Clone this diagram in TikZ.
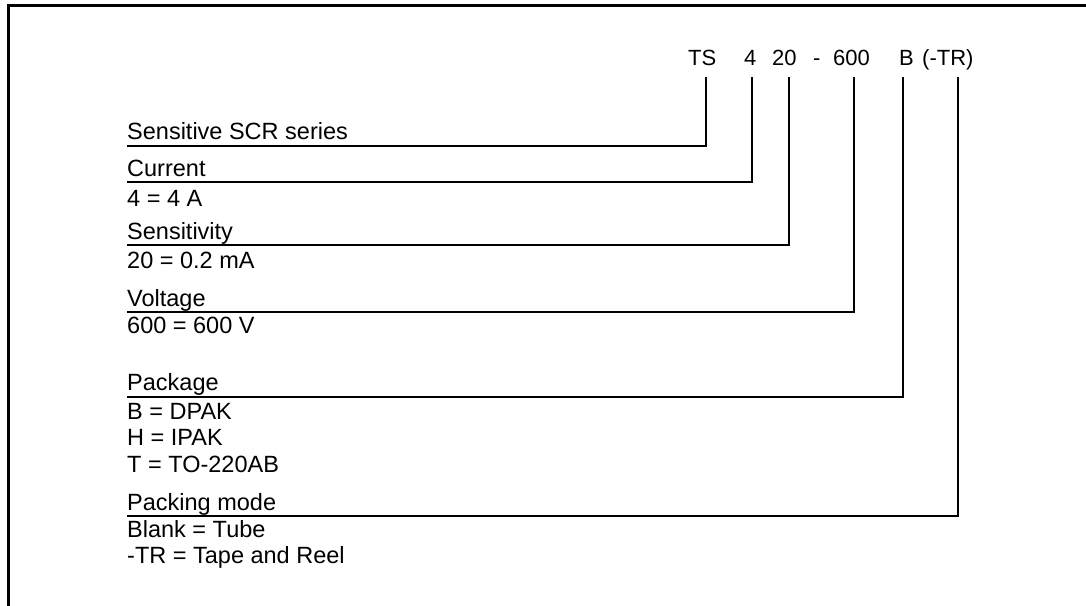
\documentclass[tikz,border=0pt]{standalone}
\usepackage{fontspec}
\setmainfont{Liberation Sans}
\begin{document}
\begin{tikzpicture}[x=1pt,y=-1pt,
  lead/.style={line width=2.4pt},
  txt/.style={anchor=base west,inner sep=0pt,font=\fontsize{23.5}{28}\selectfont},
  code/.style={txt,font=\fontsize{22}{26}\selectfont}]
  \clip (0,0) rectangle (1086,605);
  
  % Drawing frame
  \draw [line width=3pt] (8,640) -- (8,5) -- (1120,5);%
  
  % Drawing part number
  \node [code] (cTS) at (688,65) {TS};%
  \node [code] (cCur) at (744,65) {4};%
  \node [code] (cSens) at (772,65) {20};%
  \node [code] (cDash) at (813,65) {-};%
  \node [code] (cVolt) at (833,65) {600};%
  \node [code] (cPkg) at (899,65) {B};%
  \node [code] (cPack) at (922,65) {(-TR)};%
  
  % Marking lead tops
  \coordinate (tTS) at (706,77);%
  \coordinate (tCur) at (752,77);%
  \coordinate (tSens) at (789,77);%
  \coordinate (tVolt) at (854,77);%
  \coordinate (tPkg) at (903,77);%
  \coordinate (tPack) at (958,77);%
  
  % Marking row ends
  \coordinate (rTS) at (127,146);%
  \coordinate (rCur) at (127,182);%
  \coordinate (rSens) at (127,245);%
  \coordinate (rVolt) at (127,312);%
  \coordinate (rPkg) at (127,397);%
  \coordinate (rPack) at (127,516);%
  
  % Drawing leads
  \draw [lead] (tTS) |- (rTS);%
  \draw [lead] (tCur) |- (rCur);%
  \draw [lead] (tSens) |- (rSens);%
  \draw [lead] (tVolt) |- (rVolt);%
  \draw [lead] (tPkg) |- (rPkg);%
  \draw [lead] (tPack) |- (rPack);%
  
  % Drawing row texts
  \node [txt] (lTS) at (127,139) {Sensitive SCR series};%
  \node [txt] (lCur) at (127,176) {Current};%
  \node [txt] (vCur) at (127,206) {4 = 4 A};%
  \node [txt] (lSens) at (127,239) {Sensitivity};%
  \node [txt] (vSens) at (127,268) {20 = 0.2 mA};%
  \node [txt] (lVolt) at (127,306) {Voltage};%
  \node [txt] (vVolt) at (127,333) {600 = 600 V};%
  \node [txt] (lPkg) at (127,390) {Package};%
  \node [txt] (vPkgB) at (127,419) {B = DPAK};%
  \node [txt] (vPkgH) at (127,445) {H = IPAK};%
  \node [txt] (vPkgT) at (127,472) {T = TO-220AB};%
  \node [txt] (lPack) at (127,510) {Packing mode};%
  \node [txt] (vPackB) at (127,537) {Blank = Tube};%
  \node [txt] (vPackT) at (127,563) {-TR = Tape and Reel};%
\end{tikzpicture}
\end{document}
